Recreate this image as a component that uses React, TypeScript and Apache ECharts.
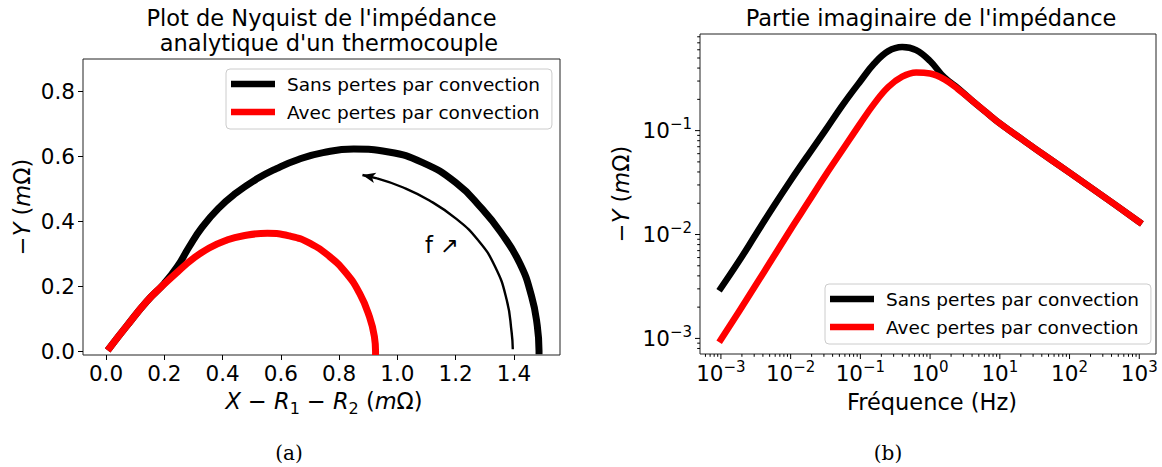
import { useEffect, useRef } from 'react';
import * as echarts from 'echarts';

// ---------- data ----------
const nameSans = 'Sans pertes par convection';
const nameAvec = 'Avec pertes par convection';

// Nyquist plot (X - R1 - R2, -Y) in mOhm
const nyqSansX = [0.013, 0.07, 0.14, 0.2, 0.245, 0.285, 0.33, 0.385, 0.445, 0.515, 0.585, 0.66, 0.745, 0.85, 0.97, 1.085, 1.2, 1.29, 1.355, 1.42, 1.46, 1.48, 1.486];
const nyqSansY = [0.013, 0.078, 0.155, 0.21, 0.262, 0.322, 0.383, 0.44, 0.487, 0.53, 0.563, 0.591, 0.612, 0.623, 0.614, 0.582, 0.52, 0.44, 0.367, 0.272, 0.172, 0.08, 0.003];
const nyqAvecX = [0.013, 0.07, 0.14, 0.2, 0.245, 0.297, 0.354, 0.411, 0.468, 0.554, 0.63, 0.699, 0.767, 0.824, 0.87, 0.904, 0.921, 0.925];
const nyqAvecY = [0.013, 0.078, 0.155, 0.208, 0.245, 0.285, 0.319, 0.342, 0.356, 0.364, 0.356, 0.334, 0.293, 0.242, 0.18, 0.108, 0.047, 0.001];

// annotation arrow (frequency increasing)
const arrowX = [1.396, 1.392, 1.375, 1.335, 1.275, 1.2, 1.11, 1.02, 0.93];
const arrowY = [0.008, 0.06, 0.16, 0.262, 0.345, 0.41, 0.465, 0.505, 0.533];
const arrowHeadFrom = [0.93, 0.533];
const arrowHeadTo = [0.88, 0.5435];
const fLabelPos = [1.153, 0.328];

// Imaginary part vs frequency
const freq = [0.001, 0.00178, 0.00316, 0.00562, 0.01, 0.0178, 0.0316, 0.0562, 0.1, 0.158, 0.251, 0.398, 0.631, 1, 1.585, 2.51, 3.98, 6.31, 10, 31.6, 100, 316, 1000];
const imSans = [0.00305, 0.00543, 0.01, 0.0184, 0.0331, 0.0582, 0.101, 0.178, 0.299, 0.442, 0.582, 0.638, 0.596, 0.468, 0.327, 0.256, 0.195, 0.151, 0.1175, 0.0676, 0.0394, 0.0229, 0.0132];
const imAvec = [0.000977, 0.00178, 0.00327, 0.00603, 0.0112, 0.0204, 0.0372, 0.0661, 0.1175, 0.182, 0.263, 0.331, 0.363, 0.355, 0.313, 0.251, 0.195, 0.151, 0.1175, 0.0676, 0.0394, 0.0229, 0.0132];

// ticks
const leftXTicks = [0, 0.2, 0.4, 0.6, 0.8, 1.0, 1.2, 1.4];
const leftYTicks = [0, 0.2, 0.4, 0.6, 0.8];
const rightXDecades = [0.001, 0.01, 0.1, 1, 10, 100, 1000];
const rightYDecades = [0.001, 0.01, 0.1];
const minorMantissas = [2, 3, 4, 5, 6, 7, 8, 9];

// ---------- layout ----------
const FONT = 'DejaVu Sans';
const LX = [-0.079, 1.558];
const LY = [-0.01, 0.9];
const RX = [Math.pow(10, -3.3), Math.pow(10, 3.24)];
const RY = [Math.pow(10, -3.15), Math.pow(10, -0.07)];

function minors(range: number[]) {
  const out: number[] = [];
  for (let e = -5; e <= 4; e++) {
    for (const m of minorMantissas) {
      const v = m * Math.pow(10, e);
      if (v >= range[0] && v <= range[1]) out.push(v);
    }
  }
  return out;
}

const zip = (a: number[], b: number[]) => a.map((v, i) => [v, b[i]]);

function supLabel(v: number) {
  const l = Math.log10(v);
  const e = Math.round(l);
  if (Math.abs(l - e) > 1e-6) return '';
  const s = e < 0 ? '\u2212' + String(-e) : String(e);
  return '{a|10}{s|' + s + '}';
}

const supRich = {
  a: { fontSize: 21.5, lineHeight: 28, fontFamily: FONT, color: '#000' },
  s: { fontSize: 15, lineHeight: 15, verticalAlign: 'top', fontFamily: FONT, color: '#000' },
};

const mathRich = {
  n: { fontSize: 22.5, lineHeight: 30, fontFamily: FONT, fill: '#000', color: '#000' },
  i: { fontSize: 22.5, lineHeight: 30, fontFamily: FONT, fontStyle: 'italic', fill: '#000', color: '#000' },
  sub: { fontSize: 16, lineHeight: 16, verticalAlign: 'bottom', fontFamily: FONT, fill: '#000', color: '#000' },
};

const legendCommon = {
  orient: 'vertical',
  data: [nameSans, nameAvec],
  icon: 'rect',
  itemWidth: 44,
  itemHeight: 6.5,
  itemGap: 6,
  padding: [4, 12, 6, 5],
  backgroundColor: 'rgba(255,255,255,0.8)',
  borderColor: '#cccccc',
  borderWidth: 1,
  borderRadius: 4,
  selectedMode: false,
  textStyle: { fontFamily: FONT, fontSize: 18.5, color: '#000', lineHeight: 22, padding: [0, 0, 0, 7] },
};

const tickLabel = (v: number) => {
  const r = Math.round(v / 0.2) * 0.2;
  if (Math.abs(v - r) > 1e-6) return '';
  return r.toFixed(1);
};

function buildOption() {
  const xMinor = minors(RX);
  const yMinor = minors(RY);
  const xTickData = [
    ...rightXDecades.map((v) => [v, RY[0], 5]),
    ...xMinor.map((v) => [v, RY[0], 2.8]),
  ];
  const yTickData = [
    ...rightYDecades.map((v) => [RX[0], v, 5]),
    ...yMinor.map((v) => [RX[0], v, 2.8]),
  ];

  const thick = (name: string, color: string, data: number[][], xi: number, w: number, sm: number) => ({
    name, type: 'line', xAxisIndex: xi, yAxisIndex: xi,
    data, smooth: sm, symbol: 'none', showSymbol: false,
    color, lineStyle: { color, width: w, cap: 'square', join: 'round' },
  });

  return {
    animation: false,
    backgroundColor: '#ffffff',
    grid: [
      { left: 83, top: 59, width: 477, height: 296, show: true, borderColor: '#222', borderWidth: 1, backgroundColor: 'transparent' },
      { left: 700, top: 34, width: 456, height: 320, show: true, borderColor: '#222', borderWidth: 1, backgroundColor: 'transparent' },
    ],
    xAxis: [
      {
        type: 'value', gridIndex: 0, min: LX[0], max: LX[1],
        axisLine: { show: false, onZero: false },
        splitLine: { show: false },
        axisTick: { show: true, length: 5, lineStyle: { color: '#000' }, customValues: leftXTicks },
        axisLabel: { customValues: leftXTicks, formatter: tickLabel, margin: 7, fontSize: 21.5, fontFamily: FONT, color: '#000' },
      },
      {
        type: 'log', gridIndex: 1, min: RX[0], max: RX[1],
        axisLine: { show: false },
        splitLine: { show: false },
        axisTick: { show: false },
        axisLabel: { formatter: supLabel, rich: supRich, margin: 5 },
      },
    ],
    yAxis: [
      {
        type: 'value', gridIndex: 0, min: LY[0], max: LY[1],
        axisLine: { show: false, onZero: false },
        splitLine: { show: false },
        axisTick: { show: true, length: 5, lineStyle: { color: '#000' }, customValues: leftYTicks },
        axisLabel: { customValues: leftYTicks, formatter: tickLabel, margin: 8, fontSize: 21.5, fontFamily: FONT, color: '#000' },
      },
      {
        type: 'log', gridIndex: 1, min: RY[0], max: RY[1],
        axisLine: { show: false },
        splitLine: { show: false },
        axisTick: { show: false },
        axisLabel: { formatter: supLabel, rich: supRich, margin: 8 },
      },
    ],
    legend: [
      { ...legendCommon, left: 226, top: 69 },
      { ...legendCommon, left: 825, top: 284 },
    ],
    series: [
      thick(nameSans, '#000000', zip(nyqSansX, nyqSansY), 0, 7, 0.5),
      thick(nameAvec, '#ff0000', zip(nyqAvecX, nyqAvecY), 0, 7, 0.5),
      {
        name: 'arrow', type: 'line', xAxisIndex: 0, yAxisIndex: 0,
        data: zip(arrowX, arrowY), smooth: 0.5, symbol: 'none', showSymbol: false, silent: true,
        color: '#000', lineStyle: { color: '#000', width: 2.4 },
        markLine: {
          silent: true, symbol: ['none', 'arrow'], symbolSize: [8, 13],
          label: { show: false },
          lineStyle: { color: '#000', width: 2.4, type: 'solid' },
          data: [[{ coord: arrowHeadFrom }, { coord: arrowHeadTo }]],
        },
        markPoint: {
          silent: true,
          data: [{ coord: fLabelPos, symbol: 'circle', symbolSize: 1, itemStyle: { color: 'transparent' } }],
          label: { show: true, position: 'inside', formatter: 'f \u2197', color: '#000', fontSize: 22.5, fontFamily: FONT },
        },
      },
      thick(nameSans, '#000000', zip(freq, imSans), 1, 6.5, 0.4),
      thick(nameAvec, '#ff0000', zip(freq, imAvec), 1, 6.5, 0.4),
      {
        type: 'custom', xAxisIndex: 1, yAxisIndex: 1, clip: false, silent: true,
        data: xTickData,
        renderItem: (_p: any, api: any) => {
          const pt = api.coord([api.value(0), api.value(1)]);
          const len = api.value(2);
          return { type: 'line', shape: { x1: pt[0], y1: pt[1], x2: pt[0], y2: pt[1] + len }, style: { stroke: '#000', lineWidth: 1 } };
        },
      },
      {
        type: 'custom', xAxisIndex: 1, yAxisIndex: 1, clip: false, silent: true,
        data: yTickData,
        renderItem: (_p: any, api: any) => {
          const pt = api.coord([api.value(0), api.value(1)]);
          const len = api.value(2);
          return { type: 'line', shape: { x1: pt[0] - len, y1: pt[1], x2: pt[0], y2: pt[1] }, style: { stroke: '#000', lineWidth: 1 } };
        },
      },
    ],
    graphic: [
      { type: 'text', x: 321.5, y: 18, style: { text: "Plot de Nyquist de l'impédance", fontSize: 22.5, fontFamily: FONT, fill: '#000', align: 'center', verticalAlign: 'middle' } },
      { type: 'text', x: 329, y: 43, style: { text: "analytique d'un thermocouple", fontSize: 22.5, fontFamily: FONT, fill: '#000', align: 'center', verticalAlign: 'middle' } },
      { type: 'text', x: 931, y: 18, style: { text: "Partie imaginaire de l'impédance", fontSize: 22.5, fontFamily: FONT, fill: '#000', align: 'center', verticalAlign: 'middle' } },
      { type: 'text', x: 22, y: 207, rotation: Math.PI / 2, style: { text: '{n|\u2212}{i|Y}{n| (}{i|m}{n|\u03a9)}', rich: mathRich, align: 'center', verticalAlign: 'middle' } },
      { type: 'text', x: 621, y: 194, rotation: Math.PI / 2, style: { text: '{n|\u2212}{i|Y}{n| (}{i|m}{n|\u03a9)}', rich: mathRich, align: 'center', verticalAlign: 'middle' } },
      { type: 'text', x: 324, y: 401, style: { text: '{i|X}{n| \u2212 }{i|R}{sub|1}{n| \u2212 }{i|R}{sub|2}{n| (}{i|m}{n|\u03a9)}', rich: mathRich, align: 'center', verticalAlign: 'middle' } },
      { type: 'text', x: 932, y: 402, style: { text: 'Fréquence (Hz)', fontSize: 22.5, fontFamily: FONT, fill: '#000', align: 'center', verticalAlign: 'middle' } },
      { type: 'text', x: 289, y: 453, style: { text: '(a)', fontSize: 20, fontFamily: 'DejaVu Serif', fill: '#000', align: 'center', verticalAlign: 'middle' } },
      { type: 'text', x: 888, y: 453, style: { text: '(b)', fontSize: 20, fontFamily: 'DejaVu Serif', fill: '#000', align: 'center', verticalAlign: 'middle' } },
    ],
  };
}

export default function App() {
  const ref = useRef<HTMLDivElement>(null);
  useEffect(() => {
    if (!ref.current) return;
    const chart = echarts.init(ref.current, null, { renderer: 'svg' });
    chart.setOption(buildOption() as any);
    return () => chart.dispose();
  }, []);
  return <div ref={ref} style={{ position: 'absolute', left: 0, top: 0, width: 1162, height: 467 }} />;
}
